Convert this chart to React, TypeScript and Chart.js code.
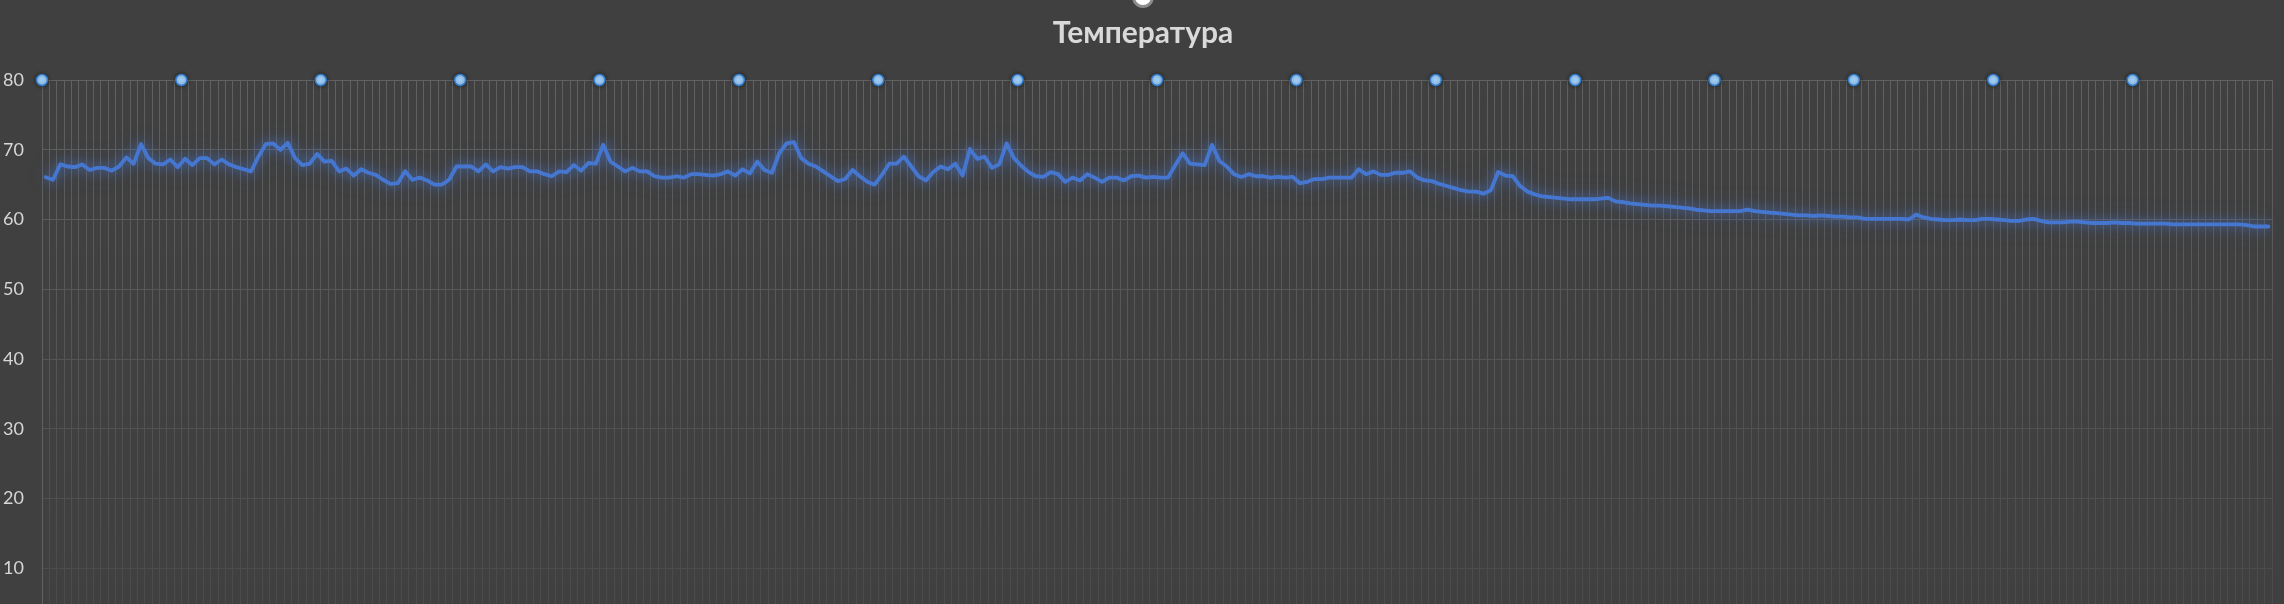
import React, { useEffect, useRef } from "react";
import { Chart, registerables } from "chart.js";

Chart.register(...registerables);

const chartTitle = "Температура";

// Temperature readings, one per sample
const temperatures: number[] = [
  66.05, 65.7, 67.9, 67.6, 67.5, 67.9, 67.1, 67.4, 67.4, 67.0,
  67.6, 68.9, 68.0, 70.8, 68.8, 68.0, 67.9, 68.6, 67.5, 68.7,
  67.8, 68.8, 68.8, 67.9, 68.6, 67.9, 67.5, 67.2, 66.9, 69.0,
  70.8, 70.9, 70.0, 71.0, 68.8, 67.8, 68.0, 69.4, 68.3, 68.4,
  66.9, 67.3, 66.3, 67.2, 66.7, 66.4, 65.7, 65.1, 65.2, 66.9,
  65.7, 66.0, 65.6, 65.0, 65.0, 65.7, 67.6, 67.6, 67.6, 66.9,
  67.9,
  66.9, 67.5, 67.3, 67.5, 67.5, 66.9, 66.9, 66.5, 66.2, 66.9,
  66.8, 67.8, 67.0, 68.1, 68.0, 70.7, 68.3, 67.6, 66.9, 67.4,
  66.9, 66.9, 66.2, 66.0, 66.0, 66.2, 66.0, 66.5, 66.5, 66.4,
  66.3, 66.5, 66.9, 66.3, 67.2, 66.6, 68.3, 67.1, 66.7, 69.5,
  70.9, 71.1, 68.8, 68.0, 67.6, 66.9, 66.2, 65.5, 65.8, 67.1,
  66.2, 65.4, 65.0, 66.4, 68.0, 68.0, 69.0, 67.6, 66.2, 65.6,
  66.8,
  67.6, 67.2, 68.0, 66.3, 70.1, 68.7, 69.0, 67.4, 67.9,
  70.9, 68.8, 67.7, 66.8, 66.2, 66.1, 66.8, 66.5, 65.4, 66.0,
  65.6, 66.5, 66.0, 65.4, 66.0, 66.0, 65.6, 66.2, 66.3, 66.0,
  66.1, 66.0, 66.0, 67.8, 69.5, 68.0, 67.9, 67.8, 70.7, 68.4,
  67.6, 66.5, 66.1, 66.5, 66.2, 66.2, 66.0, 66.1, 66.0, 66.1,
  65.2, 65.4, 65.8, 65.8, 66.0, 66.0, 66.0, 66.0, 67.2, 66.5,
  66.9, 66.4, 66.4,
  66.7, 66.7, 66.9, 66.0, 65.6, 65.5, 65.1, 64.8, 64.5, 64.2,
  64.0, 64.0, 63.7, 64.2, 66.8, 66.3, 66.2, 64.8, 64.0, 63.6,
  63.3, 63.2, 63.1, 63.0, 62.9, 62.9, 62.9, 62.9, 63.0, 63.1,
  62.6, 62.5, 62.3, 62.2, 62.1, 62.0, 62.0, 61.9, 61.8, 61.7,
  61.6, 61.4, 61.3, 61.2, 61.2, 61.2, 61.2, 61.2, 61.4, 61.2,
  61.1, 61.0, 60.9, 60.8, 60.7, 60.6, 60.6, 60.5, 60.6, 60.5,
  60.4,
  60.4, 60.3, 60.3, 60.1, 60.1, 60.1, 60.1, 60.1, 60.1, 60.0,
  60.7, 60.3, 60.1, 60.0, 59.9, 59.9, 60.0, 59.9, 59.9, 60.1,
  60.1, 60.0, 59.9, 59.8, 59.8, 60.0, 60.1, 59.8, 59.6, 59.6,
  59.6, 59.7, 59.7, 59.6, 59.5, 59.5, 59.5, 59.6, 59.5, 59.5,
  59.4, 59.4, 59.4, 59.4, 59.4, 59.3, 59.3, 59.3, 59.3, 59.3,
  59.3, 59.3, 59.3, 59.3, 59.3, 59.2, 59.0, 59.0, 59.0,
];

// Marker series along the top edge (category boundaries)
const markerPositions: number[] = [0, 19, 38, 57, 76, 95, 114, 133, 152, 171, 190, 209, 228, 247, 266, 285];
const markerLevel = 80;

// Y axis
const yMin = 0;
const yMax = 80;
const yStep = 10;

const W = 2284;
const H = 660;

export default function App() {
  const ref = useRef<HTMLCanvasElement | null>(null);

  useEffect(() => {
    const canvas = ref.current;
    if (!canvas) return;
    const categoryCount = temperatures.length;

    const gridGradient = (c: any) => {
      const chart = c.chart;
      const g = chart.ctx.createLinearGradient(0, 80, 0, 620);
      g.addColorStop(0, "#616161");
      g.addColorStop(1, "#4a4a4a");
      return g;
    };

    const bgPlugin = {
      id: "bg",
      beforeDraw(chart: any) {
        const ctx = chart.ctx;
        ctx.save();
        ctx.fillStyle = "#404040";
        ctx.fillRect(0, 0, chart.width, chart.height);
        ctx.restore();
      },
    };

    const titlePlugin = {
      id: "centeredTitle",
      afterDraw(chart: any) {
        const ctx = chart.ctx;
        ctx.save();
        ctx.font = "bold 30px Lato";
        ctx.fillStyle = "#d9d9d9";
        ctx.textAlign = "center";
        ctx.textBaseline = "alphabetic";
        ctx.fillText(chartTitle, 1143, 43);
        ctx.restore();
      },
    };

    const glowPlugin = {
      id: "glow",
      beforeDatasetDraw(chart: any, args: any) {
        const ctx = chart.ctx;
        ctx.save();
        if (args.index === 0) {
          const pts = args.meta.data;
          ctx.save();
          ctx.beginPath();
          pts.forEach((p: any, i: number) => (i ? ctx.lineTo(p.x, p.y) : ctx.moveTo(p.x, p.y)));
          ctx.strokeStyle = "rgba(70,120,215,0.35)";
          ctx.lineWidth = 3;
          ctx.lineJoin = "round";
          ctx.shadowColor = "rgba(70,120,215,0.9)";
          ctx.shadowBlur = 24;
          ctx.stroke();
          ctx.restore();
          ctx.shadowColor = "rgba(70,120,215,0.85)";
          ctx.shadowBlur = 12;
        } else {
          ctx.shadowColor = "rgba(0,0,0,0.45)";
          ctx.shadowBlur = 4;
        }
      },
      afterDatasetDraw(chart: any) {
        chart.ctx.restore();
      },
    };

    const handlePlugin = {
      id: "handle",
      afterDraw(chart: any) {
        const ctx = chart.ctx;
        ctx.save();
        ctx.beginPath();
        ctx.arc(1143, -3, 9.5, 0, Math.PI * 2);
        ctx.fillStyle = "#ffffff";
        ctx.fill();
        ctx.lineWidth = 3;
        ctx.strokeStyle = "#8c8c8c";
        ctx.stroke();
        ctx.restore();
      },
    };

    const chart = new Chart(canvas, {
      type: "line",
      data: {
        datasets: [
          {
            label: chartTitle,
            data: temperatures.map((v, i) => ({ x: i + 0.5, y: v })),
            borderColor: "#4677d0",
            borderWidth: 3.8,
            pointRadius: 0,
            tension: 0,
            borderJoinStyle: "round",
            borderCapStyle: "round",
            fill: false,
          } as any,
          {
            label: "markers",
            data: markerPositions.map((x) => ({ x, y: markerLevel })),
            showLine: false,
            pointRadius: 5.5,
            pointBackgroundColor: "#a6d4ff",
            pointBorderColor: "#2f7ccc",
            pointBorderWidth: 1.5,
            clip: false,
          } as any,
        ],
      },
      options: {
        animation: false,
        responsive: false,
        layout: { padding: { left: 3, right: 12, top: 80, bottom: 22 } },
        plugins: {
          legend: { display: false },
          tooltip: { enabled: false },
          title: { display: false },
        },
        scales: {
          x: {
            type: "linear",
            min: 0,
            max: categoryCount,
            ticks: { display: false, stepSize: 1, maxTicksLimit: 1000, autoSkip: false },
            grid: { color: gridGradient, lineWidth: 1, drawTicks: false },
            border: { display: false },
            afterFit: (s: any) => {
              s.height = 0;
            },
          },
          y: {
            min: yMin,
            max: yMax,
            ticks: {
              stepSize: yStep,
              color: "#d6d6d6",
              font: { family: "Lato", size: 18 },
              crossAlign: "far",
              padding: 0,
            },
            grid: { color: gridGradient, lineWidth: 1, drawTicks: false },
            border: { display: true, color: "#616161" },
            afterFit: (s: any) => {
              s.width = 39;
            },
          },
        },
      } as any,
      plugins: [bgPlugin, glowPlugin, handlePlugin, titlePlugin],
    });

    return () => chart.destroy();
  }, []);

  return (
    <div style={{ position: "fixed", left: 0, top: 0, width: W, height: H, background: "#404040" }}>
      <canvas ref={ref} width={W} height={H} style={{ display: "block", width: W, height: H }} />
    </div>
  );
}
